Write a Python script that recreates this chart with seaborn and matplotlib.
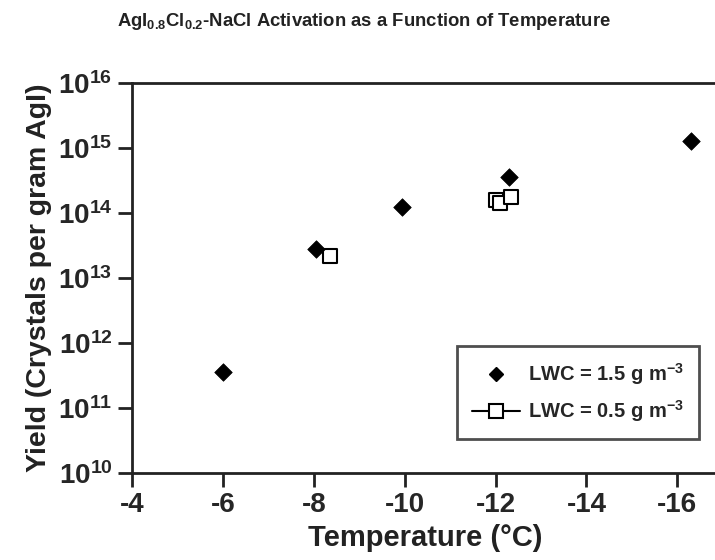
import math
import pandas as pd
import matplotlib.pyplot as plt
import seaborn as sns
from matplotlib.lines import Line2D
from matplotlib.ticker import FixedLocator, FuncFormatter, NullLocator

# Data
temp_hi = [-6.0, -8.05, -9.93, -12.3, -16.3]
yield_hi = [3.6e11, 2.8e13, 1.24e14, 3.6e14, 1.28e15]

temp_lo = [-8.35, -12.0, -12.1, -12.35]
yield_lo = [2.2e13, 1.58e14, 1.42e14, 1.77e14]

x_ticks = [-4, -6, -8, -10, -12, -14, -16]
y_exps = [10, 11, 12, 13, 14, 15, 16]

df_hi = pd.DataFrame({'temp': temp_hi, 'yield': yield_hi})
df_lo = pd.DataFrame({'temp': temp_lo, 'yield': yield_lo})

sns.set_theme(style='ticks')
plt.rcParams['font.family'] = ['Liberation Sans', 'DejaVu Sans']
plt.rcParams['font.weight'] = 'bold'
plt.rcParams['mathtext.fontset'] = 'custom'
plt.rcParams['mathtext.rm'] = 'Liberation Sans:bold'
plt.rcParams['mathtext.bf'] = 'Liberation Sans:bold'
plt.rcParams['mathtext.it'] = 'Liberation Sans:bold'

ink = '#222222'

fig = plt.figure(figsize=(7.15, 5.6), dpi=100)
ax = fig.add_axes([0.1846, 0.1554, 0.82, 0.6966])

sns.scatterplot(data=df_lo, x='temp', y='yield', marker='s', s=115,
                facecolor='white', edgecolor='black', linewidth=1.5, ax=ax, zorder=3)
sns.scatterplot(data=df_hi, x='temp', y='yield', marker='D', s=80,
                color='black', edgecolor='black', linewidth=0.5, ax=ax, zorder=4)

ax.set_yscale('log')
ax.set_ylim(1e10, 1e16)
ax.set_xlim(-4, -16.9)

ax.xaxis.set_major_locator(FixedLocator(x_ticks))
ax.xaxis.set_major_formatter(FuncFormatter(lambda v, p: '%d' % v))
ax.yaxis.set_major_locator(FixedLocator([10.0 ** e for e in y_exps]))
ax.yaxis.set_minor_locator(NullLocator())
ax.yaxis.set_major_formatter(FuncFormatter(lambda v, p: r'$\mathbf{10^{%d}}$' % round(math.log10(v))))

ax.tick_params(axis='both', direction='out', length=10, width=2, color=ink,
               labelsize=20, pad=4)
for side in ['left', 'bottom', 'top']:
    ax.spines[side].set_linewidth(2)
    ax.spines[side].set_color(ink)
ax.spines['right'].set_visible(False)

ax.set_xlabel('Temperature (°C)', fontsize=21, fontweight='bold', labelpad=4, color=ink)
ax.set_ylabel('Yield (Crystals per gram AgI)', fontsize=20.5, fontweight='bold', labelpad=4, color=ink)

fig.text(0.509, 0.961, r'AgI$_{0.8}$Cl$_{0.2}$-NaCl Activation as a Function of Temperature',
         ha='center', va='center', fontsize=13.3, fontweight='bold', color=ink)

handles = [
    Line2D([], [], marker='D', color='black', linestyle='none', markersize=7.5),
    Line2D([], [], marker='s', color='black', markerfacecolor='white',
           markeredgewidth=1.5, markersize=10, linewidth=1.5),
]
labels = [r'LWC = 1.5 g m$^{-3}$', r'LWC = 0.5 g m$^{-3}$']
leg = ax.legend(handles, labels, loc='lower right', bbox_to_anchor=(699 / 715, 1 - 439 / 560),
                bbox_transform=fig.transFigure, borderaxespad=0, frameon=True, fancybox=False,
                fontsize=14.5, handlelength=2.4, borderpad=0.75, labelspacing=0.55,
                handletextpad=0.4)
leg.get_frame().set_edgecolor(ink)
leg.get_frame().set_linewidth(2)

plt.savefig('out.png', dpi=100)
